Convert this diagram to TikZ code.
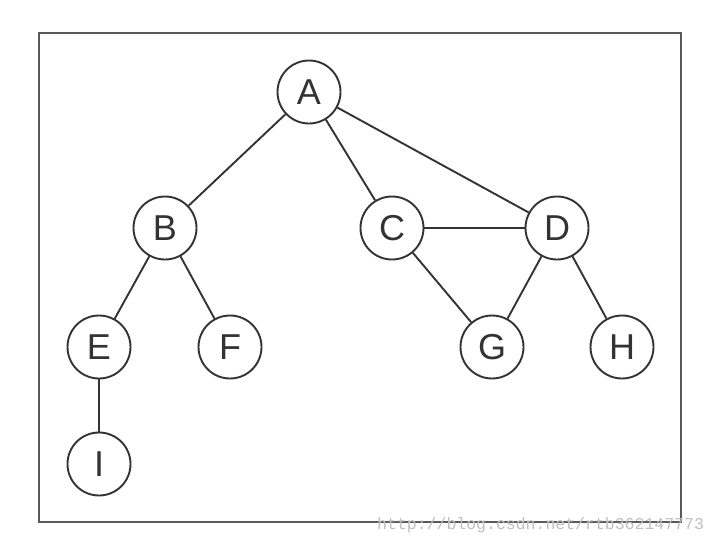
\documentclass[tikz,border=0pt]{standalone}
\usepackage{fontspec}
\setmainfont{Liberation Sans}
\newfontfamily\wmfont{Liberation Mono}
\begin{document}
\begin{tikzpicture}[x=1pt,y=-1pt,
  vnode/.style={circle,draw=black!80,line width=1.9pt,minimum size=63pt,inner sep=0pt,
     font=\fontsize{36}{40}\selectfont,text=black!80},
  edge/.style={draw=black!80,line width=1.9pt}]
\useasboundingbox (0,0) rectangle (720,544);
\draw[line width=2.4pt,draw=black!65] (39,33) rectangle (681,522);
\node[vnode] (A) at (309,92) {A};
\node[vnode] (B) at (165,228) {B};
\node[vnode] (C) at (392,228) {C};
\node[vnode] (D) at (557,228) {D};
\node[vnode] (E) at (99,347) {E};
\node[vnode] (F) at (230,347) {F};
\node[vnode] (G) at (492,347) {G};
\node[vnode] (H) at (622,347) {H};
\node[vnode] (I) at (99,464) {I};
\draw[edge] (A) -- (B);
\draw[edge] (A) -- (C);
\draw[edge] (A) -- (D);
\draw[edge] (C) -- (D);
\draw[edge] (C) -- (G);
\draw[edge] (D) -- (G);
\draw[edge] (D) -- (H);
\draw[edge] (B) -- (E);
\draw[edge] (B) -- (F);
\draw[edge] (E) -- (I);
\node[anchor=base west,inner sep=0pt,text=black!25,font=\wmfont\fontsize{16.5}{18}\selectfont] (wm) at (377,529) {http://blog.csdn.net/rtb362147773};
\end{tikzpicture}
\end{document}
